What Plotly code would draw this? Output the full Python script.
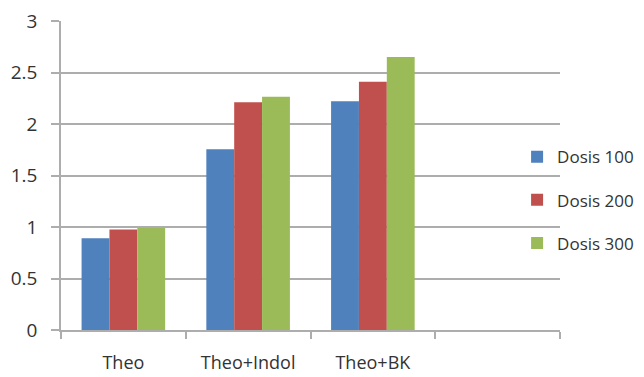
import plotly.graph_objects as go

categories = ["Theo", "Theo+Indol", "Theo+BK"]
empty_slot = [" "]
series_names = ["Dosis 100", "Dosis 200", "Dosis 300"]
dosis_100 = [0.89, 1.755, 2.22]
dosis_200 = [0.975, 2.21, 2.41]
dosis_300 = [0.99, 2.265, 2.65]
y_ticks = [0, 0.5, 1, 1.5, 2, 2.5, 3]
y_tick_labels = ["0", "0.5", "1", "1.5", "2", "2.5", "3"]

colors = ["#4F81BD", "#C0504D", "#9BBB59"]
font_family = "Open Sans"

fig = go.Figure()
for i, (name, vals) in enumerate(zip(series_names, [dosis_100, dosis_200, dosis_300])):
    fig.add_trace(go.Bar(
        x=categories + empty_slot,
        y=vals + [None],
        name=name,
        legendgroup=name,
        marker=dict(color=colors[i], line=dict(width=0)),
    ))

grid_color = "#ADADAD"
fig.update_layout(
    width=644, height=377,
    margin=dict(l=53, r=92, t=13, b=55, autoexpand=False),
    paper_bgcolor="white", plot_bgcolor="white",
    barmode="group", bargap=0.33, bargroupgap=0,
    font=dict(family=font_family, size=18, color="#333333"),
    showlegend=True,
    legend=dict(
        x=0.914, y=0.42, xanchor="left", yanchor="middle",
        bgcolor="rgba(0,0,0,0)", borderwidth=0,
        font=dict(family=font_family, size=17, color="#333333"),
        tracegroupgap=18,
        traceorder="grouped",
    ),
    xaxis=dict(
        type="category",
        categoryorder="array", categoryarray=categories + empty_slot,
        range=[-0.5, 3.5],
        tickson="boundaries",
        ticks="outside", ticklen=7, tickwidth=1.5, tickcolor=grid_color,
        showline=True, linecolor=grid_color, linewidth=1.5,
        showgrid=False, zeroline=False,
        ticklabelstandoff=16,
        ticklabeloverflow="allow",
        automargin=False,
        tickfont=dict(family=font_family, size=18, color="#333333"),
    ),
    yaxis=dict(
        range=[0, 3],
        tickvals=y_ticks, ticktext=y_tick_labels,
        ticks="outside", ticklen=8, tickwidth=1.5, tickcolor=grid_color,
        showline=True, linecolor=grid_color, linewidth=1.5,
        showgrid=True, gridcolor=grid_color, gridwidth=1.5,
        zeroline=False,
        ticklabelstandoff=10,
        ticklabeloverflow="allow",
        automargin=False,
        tickfont=dict(family=font_family, size=19, color="#333333"),
    ),
)

fig.write_html("out.html")
